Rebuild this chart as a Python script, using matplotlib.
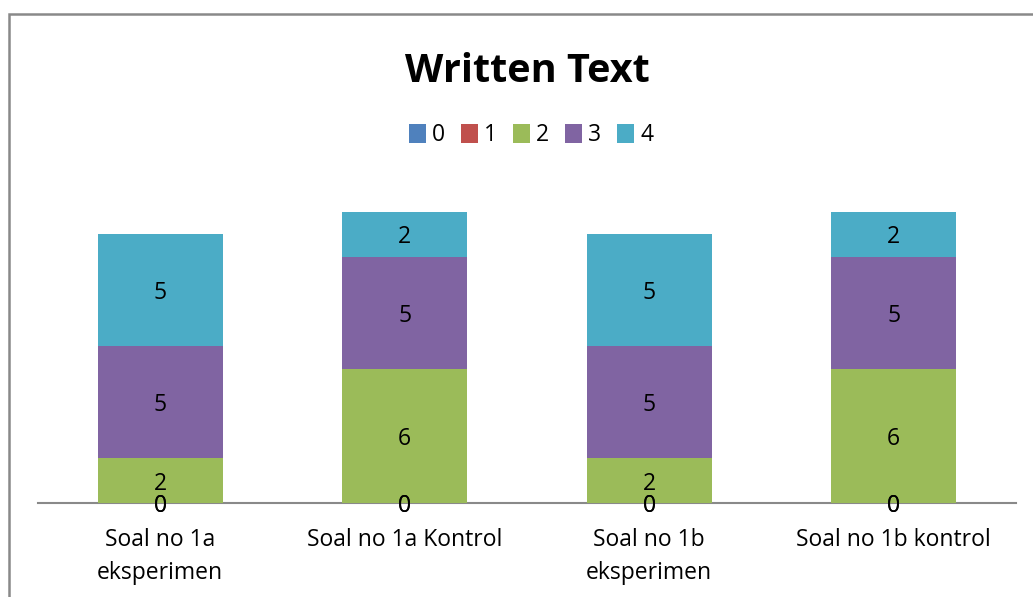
import matplotlib.pyplot as plt
import numpy as np
from matplotlib.patches import Rectangle

categories = ["Soal no 1a\neksperimen", "Soal no 1a Kontrol", "Soal no 1b\neksperimen", "Soal no 1b kontrol"]
series_names = ["0", "1", "2", "3", "4"]
s0 = [0, 0, 0, 0]
s1 = [0, 0, 0, 0]
s2 = [2, 6, 2, 6]
s3 = [5, 5, 5, 5]
s4 = [5, 2, 5, 2]
series = [s0, s1, s2, s3, s4]
colors = ["#4F81BD", "#C0504D", "#9BBB59", "#8064A2", "#4BACC6"]

plt.rcParams['font.family'] = ['Open Sans', 'DejaVu Sans']

W, H = 1033, 597
fig = plt.figure(figsize=(W / 100, H / 100), dpi=100)
ax = fig.add_axes([38 / W, 94 / H, (1016 - 38) / W, (503 - 189.4) / H])

x = np.arange(len(categories))
bottom = np.zeros(len(categories))
handles = []
for name, vals, c in zip(series_names, series, colors):
    vals = np.array(vals, dtype=float)
    b = ax.bar(x, vals, 0.51, bottom=bottom, color=c, label=name, zorder=2)
    handles.append(b)
    for xi, v, bt in zip(x, vals, bottom):
        ax.text(xi, bt + v / 2, f"{int(v)}", ha="center", va="center_baseline",
                fontsize=16.5, color="black", zorder=3)
    bottom += vals

ax.set_xlim(-0.5, len(categories) - 0.5)
ax.set_ylim(0, 14)
for s in ["left", "right", "top"]:
    ax.spines[s].set_visible(False)
ax.spines["bottom"].set_color("#898989")
ax.spines["bottom"].set_linewidth(1.5)
ax.spines["bottom"].set_zorder(1)
ax.set_yticks([])
ax.set_xticks(x)
ax.set_xticklabels(categories, fontsize=16.5, linespacing=1.5)
ax.tick_params(axis="x", length=0, pad=18)

fig.text(527 / W, 1 - 67 / H, "Written Text", ha="center", va="center_baseline",
         fontsize=28.5, fontweight="bold")

leg = fig.legend(handles=handles, labels=series_names, loc="center",
                 bbox_to_anchor=(531 / W, 1 - 135 / H), ncol=5, frameon=False,
                 fontsize=16.5, handlelength=0.75, handleheight=0.9,
                 handletextpad=0.25, columnspacing=0.7)

fig.patches.append(Rectangle((9 / W, -0.1), 1.2, 1 - 14 / H + 0.1,
                             transform=fig.transFigure, fill=False,
                             edgecolor="#898989", linewidth=1.8))

fig.savefig("out.png", dpi=100)
